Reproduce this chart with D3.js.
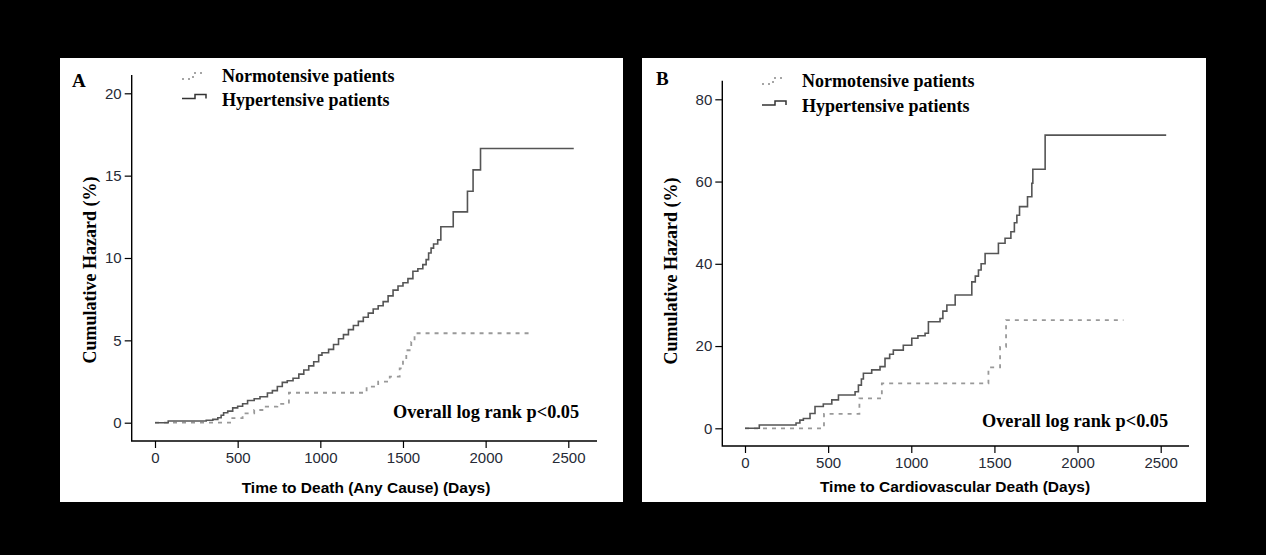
<!DOCTYPE html>
<html>
<head>
<meta charset="utf-8">
<script src="https://cdn.jsdelivr.net/npm/d3@7"></script>
<style>
  html, body { margin: 0; padding: 0; background: #000; }
  svg { display: block; }
</style>
</head>
<body>
<svg id="fig" width="1266" height="555"></svg>
<script>
// Time axis ticks (days) and hazard ticks (%) for each panel
const dayTicks = [0, 500, 1000, 1500, 2000, 2500];
const hazardTicksA = [0, 5, 10, 15, 20];
const hazardTicksB = [0, 20, 40, 60, 80];

const seriesNames = ["Normotensive patients", "Hypertensive patients"];

// Panel A: all-cause death, cumulative hazard (%) as [day, value]
const normoAllCause = [
  [0, 0], [460, 0.28], [530, 0.57], [600, 0.77], [670, 0.97], [740, 1.14],
  [810, 1.82], [1280, 2.19], [1350, 2.49], [1420, 2.8], [1480, 3.3],
  [1500, 3.8], [1520, 4.4], [1550, 4.9], [1570, 5.43], [2285, 5.43]
];
const hyperAllCause = [
  [0, 0], [80, 0.1], [310, 0.15], [350, 0.2], [380, 0.3], [400, 0.45],
  [415, 0.6], [440, 0.7], [470, 0.9], [500, 1.0], [530, 1.15], [560, 1.35],
  [600, 1.45], [635, 1.58], [680, 1.8], [710, 1.95], [740, 2.2], [770, 2.45],
  [800, 2.55], [835, 2.7], [870, 2.95], [900, 3.2], [930, 3.45], [960, 3.7],
  [990, 4.1], [1010, 4.25], [1050, 4.45], [1080, 4.75], [1110, 5.1],
  [1140, 5.35], [1170, 5.65], [1200, 5.9], [1230, 6.15], [1260, 6.4],
  [1290, 6.65], [1320, 6.9], [1350, 7.1], [1380, 7.35], [1410, 7.7],
  [1440, 8.05], [1470, 8.3], [1500, 8.5], [1530, 8.75], [1560, 9.2],
  [1590, 9.35], [1620, 9.6], [1640, 9.9], [1655, 10.3], [1670, 10.6],
  [1685, 10.85], [1710, 11.1], [1729, 11.9], [1804, 12.8], [1890, 14.05],
  [1924, 15.35], [1969, 16.65], [2533, 16.65]
];

// Panel B: cardiovascular death, cumulative hazard (%) as [day, value]
const normoCardio = [
  [0, 0], [475, 3.5], [688, 7.3], [823, 10.9], [1464, 14.8], [1534, 19.8],
  [1570, 26.3], [2276, 26.3]
];
const hyperCardio = [
  [0, 0], [86, 0.8], [307, 1.3], [330, 2.0], [351, 2.4], [391, 3.6],
  [421, 5.3], [471, 5.9], [522, 6.9], [562, 8.1], [662, 8.9], [682, 10.5],
  [700, 12.0], [712, 13.4], [762, 14.2], [812, 15.0], [842, 17.0],
  [870, 18.0], [892, 19.0], [952, 20.2], [1003, 21.9], [1040, 22.5],
  [1083, 23.1], [1103, 25.9], [1173, 26.7], [1190, 28.5], [1214, 30.0],
  [1264, 32.4], [1364, 35.6], [1385, 37.0], [1404, 38.5], [1420, 40.0],
  [1444, 42.5], [1524, 45.0], [1564, 46.2], [1599, 47.8], [1620, 50.0],
  [1635, 51.8], [1651, 53.9], [1699, 56.3], [1725, 59.6], [1731, 63.0],
  [1805, 71.3], [2533, 71.3]
];

const svg = d3.select("#fig");
svg.append("rect").attr("width", 1266).attr("height", 555).attr("fill", "#000");

const serif = "'Liberation Serif', 'Times New Roman', serif";
const sans = "'Liberation Sans', Arial, sans-serif";
const tickColor = "#262a36";

function drawPanel(cfg) {
  const g = svg.append("g");
  g.append("rect")
    .attr("x", cfg.panel[0]).attr("y", cfg.panel[1])
    .attr("width", cfg.panel[2]).attr("height", cfg.panel[3])
    .attr("fill", "#fff");

  const x = d3.scaleLinear().domain([0, 2500]).range(cfg.xRange);
  const y = d3.scaleLinear().domain(cfg.yDomain).range(cfg.yRange);

  // L-shaped frame
  g.append("path")
    .attr("d", `M${cfg.frame.left},${cfg.frame.top} V${cfg.frame.bottom} H${cfg.frame.right}`)
    .attr("fill", "none").attr("stroke", "#000").attr("stroke-width", 1.4);

  const yAxis = g.append("g")
    .attr("transform", `translate(${cfg.frame.left},0)`)
    .call(d3.axisLeft(y).tickValues(cfg.yTicks).tickFormat(d3.format("d"))
      .tickSize(7).tickPadding(3));
  const xAxis = g.append("g")
    .attr("transform", `translate(0,${cfg.frame.bottom})`)
    .call(d3.axisBottom(x).tickValues(dayTicks).tickFormat(d3.format("d"))
      .tickSize(7).tickPadding(4));
  [yAxis, xAxis].forEach(a => {
    a.select(".domain").remove();
    a.selectAll(".tick line").attr("stroke", "#000").attr("stroke-width", 1.2);
    a.selectAll(".tick text")
      .attr("fill", tickColor)
      .style("font-family", sans).style("font-size", "15px");
  });

  const line = d3.line()
    .x(d => x(d[0])).y(d => y(d[1]))
    .curve(d3.curveStepAfter);

  g.append("path").datum(cfg.normo).attr("d", line)
    .attr("fill", "none").attr("stroke", "#999")
    .attr("stroke-width", 1.8).attr("stroke-dasharray", "4,5");
  g.append("path").datum(cfg.hyper).attr("d", line)
    .attr("fill", "none").attr("stroke", "#555")
    .attr("stroke-width", 1.6);

  // Panel letter
  g.append("text").attr("x", cfg.letterPos[0]).attr("y", cfg.letterPos[1])
    .text(cfg.letter)
    .style("font-family", serif).style("font-weight", "bold").style("font-size", "19px");

  // Legend
  const lx = cfg.legend[0], ly = cfg.legend[1], gap = cfg.legend[2];
  g.append("path")
    .attr("d", `M${lx},${ly - 3} H${lx + 11} V${ly - 9} H${lx + 23}`)
    .attr("fill", "none").attr("stroke", "#888").attr("stroke-width", 1.5)
    .attr("stroke-dasharray", "2,4");
  g.append("path")
    .attr("d", `M${lx},${ly + gap - 7} H${lx + 13} V${ly + gap - 11} H${lx + 24} V${ly + gap - 7}`)
    .attr("fill", "none").attr("stroke", "#333").attr("stroke-width", 1.5);
  seriesNames.forEach((name, i) => {
    g.append("text")
      .attr("x", lx + 40).attr("y", ly + i * gap)
      .text(name)
      .style("font-family", serif).style("font-weight", "bold").style("font-size", "18px");
  });

  // Log-rank annotation
  g.append("text").attr("x", cfg.pText[0]).attr("y", cfg.pText[1])
    .text("Overall log rank p<0.05")
    .style("font-family", serif).style("font-weight", "bold").style("font-size", "18.3px");

  // Axis titles
  g.append("text")
    .attr("x", cfg.xTitle[0]).attr("y", cfg.xTitle[1])
    .attr("text-anchor", "middle")
    .text(cfg.xLabel)
    .style("font-family", sans).style("font-weight", "bold").style("font-size", "15.5px");
  g.append("text")
    .attr("transform", `translate(${cfg.yTitle[0]},${cfg.yTitle[1]}) rotate(-90)`)
    .attr("text-anchor", "middle")
    .text("Cumulative Hazard (%)")
    .style("font-family", serif).style("font-weight", "bold").style("font-size", "18px");
}

drawPanel({
  panel: [60, 58, 563, 444],
  frame: { left: 131.7, right: 597, top: 75, bottom: 441 },
  xRange: [155, 568.3],
  yDomain: [0, 20], yRange: [422.7, 93.3],
  yTicks: hazardTicksA,
  normo: normoAllCause, hyper: hyperAllCause,
  letter: "A", letterPos: [72, 87],
  legend: [182, 82, 23.5],
  pText: [393, 418],
  xLabel: "Time to Death (Any Cause) (Days)", xTitle: [366, 493],
  yTitle: [96, 270]
});

drawPanel({
  panel: [642, 58, 564, 444],
  frame: { left: 722.3, right: 1189, top: 80.7, bottom: 446 },
  xRange: [745, 1160.7],
  yDomain: [0, 80], yRange: [428.3, 99.3],
  yTicks: hazardTicksB,
  normo: normoCardio, hyper: hyperCardio,
  letter: "B", letterPos: [656, 85],
  legend: [762, 87, 25],
  pText: [982, 427],
  xLabel: "Time to Cardiovascular Death (Days)", xTitle: [955, 492],
  yTitle: [677, 271]
});
</script>
</body>
</html>
